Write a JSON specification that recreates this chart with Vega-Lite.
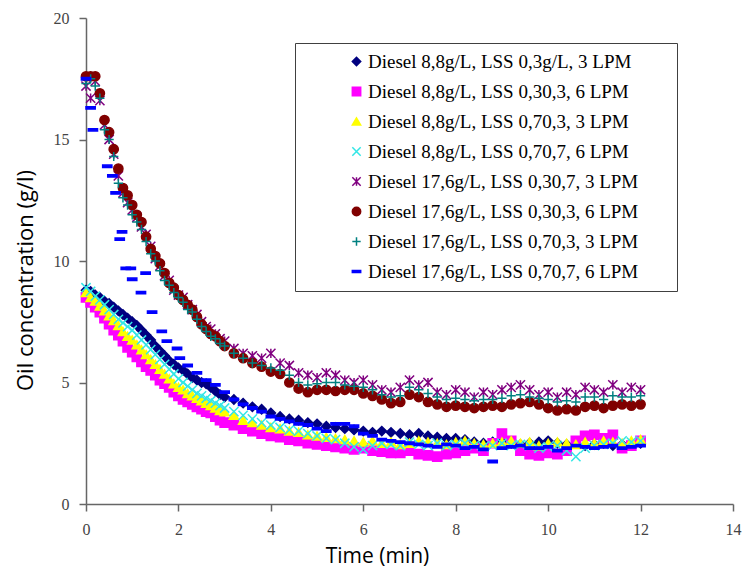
{
"$schema":"https://vega.github.io/schema/vega-lite/v6.json",
"width":647,"height":486,
"autosize":{"type":"none"},
"padding":{"left":86,"top":18,"right":10,"bottom":69},
"background":"white",
"config":{"view":{"stroke":null},
"legend":{"labelFont":"Liberation Serif","labelFontSize":19,"labelColor":"#000","symbolSize":70,"symbolStrokeWidth":1.5,"rowPadding":10,"padding":9,"symbolOffset":43,"labelOffset":2,"strokeColor":"#404040","fillColor":"white","labelLimit":0,"titleOrient":"right","titlePadding":30,"titleFont":"Liberation Serif","titleFontSize":19}},
"datasets":{"names":[
{"s":"A","name":"Diesel 8,8g/L, LSS 0,3g/L, 3 LPM"},
{"s":"B","name":"Diesel 8,8g/L, LSS 0,30,3, 6 LPM"},
{"s":"C","name":"Diesel 8,8g/L, LSS 0,70,3, 3 LPM"},
{"s":"D","name":"Diesel 8,8g/L, LSS 0,70,7, 6 LPM"},
{"s":"E","name":"Diesel 17,6g/L, LSS 0,30,7, 3 LPM"},
{"s":"F","name":"Diesel 17,6g/L, LSS 0,30,3, 6 LPM"},
{"s":"G","name":"Diesel 17,6g/L, LSS 0,70,3, 3 LPM"},
{"s":"H","name":"Diesel 17,6g/L, LSS 0,70,7, 6 LPM"}]},
"data":{"values":[
{"s":"A","t":0,"c":8.8},{"s":"A","t":0.1,"c":8.75},{"s":"A","t":0.2,"c":8.6},{"s":"A","t":0.3,"c":8.5},{"s":"A","t":0.4,"c":8.35},{"s":"A","t":0.5,"c":8.25},{"s":"A","t":0.6,"c":8.1},{"s":"A","t":0.7,"c":7.95},{"s":"A","t":0.8,"c":7.8},{"s":"A","t":0.9,"c":7.65},{"s":"A","t":1.0,"c":7.5},{"s":"A","t":1.1,"c":7.35},{"s":"A","t":1.2,"c":7.15},{"s":"A","t":1.3,"c":6.95},{"s":"A","t":1.4,"c":6.75},{"s":"A","t":1.5,"c":6.5},{"s":"A","t":1.6,"c":6.3},{"s":"A","t":1.7,"c":6.1},{"s":"A","t":1.8,"c":5.9},{"s":"A","t":1.9,"c":5.75},{"s":"A","t":2.0,"c":5.6},{"s":"A","t":2.1,"c":5.5},{"s":"A","t":2.2,"c":5.35},{"s":"A","t":2.3,"c":5.2},{"s":"A","t":2.4,"c":5.1},{"s":"A","t":2.5,"c":5.0},{"s":"A","t":2.6,"c":4.95},{"s":"A","t":2.7,"c":4.8},{"s":"A","t":2.8,"c":4.65},{"s":"A","t":2.9,"c":4.5},{"s":"A","t":3.0,"c":4.4},
{"s":"A","t":3.2,"c":4.3},{"s":"A","t":3.4,"c":4.15},{"s":"A","t":3.6,"c":4.0},{"s":"A","t":3.8,"c":3.9},{"s":"A","t":4.0,"c":3.75},{"s":"A","t":4.2,"c":3.6},{"s":"A","t":4.4,"c":3.5},{"s":"A","t":4.6,"c":3.45},{"s":"A","t":4.8,"c":3.35},{"s":"A","t":5.0,"c":3.3},{"s":"A","t":5.2,"c":3.2},{"s":"A","t":5.4,"c":3.15},{"s":"A","t":5.6,"c":3.1},{"s":"A","t":5.8,"c":3.05},{"s":"A","t":6.0,"c":3.0},{"s":"A","t":6.2,"c":2.95},{"s":"A","t":6.4,"c":3.0},{"s":"A","t":6.6,"c":2.95},{"s":"A","t":6.8,"c":2.9},{"s":"A","t":7.0,"c":2.85},{"s":"A","t":7.2,"c":2.9},{"s":"A","t":7.4,"c":2.8},{"s":"A","t":7.6,"c":2.75},{"s":"A","t":7.8,"c":2.7},{"s":"A","t":8.0,"c":2.7},{"s":"A","t":8.2,"c":2.65},{"s":"A","t":8.4,"c":2.55},{"s":"A","t":8.6,"c":2.5},{"s":"A","t":8.8,"c":2.55},{"s":"A","t":9.0,"c":2.6},{"s":"A","t":9.2,"c":2.5},{"s":"A","t":9.4,"c":2.45},{"s":"A","t":9.6,"c":2.5},{"s":"A","t":9.8,"c":2.55},{"s":"A","t":10.0,"c":2.6},{"s":"A","t":10.2,"c":2.5},{"s":"A","t":10.4,"c":2.45},{"s":"A","t":10.6,"c":2.5},{"s":"A","t":10.8,"c":2.4},{"s":"A","t":11.0,"c":2.45},{"s":"A","t":11.2,"c":2.5},{"s":"A","t":11.4,"c":2.4},{"s":"A","t":11.6,"c":2.45},{"s":"A","t":11.8,"c":2.5},{"s":"A","t":12.0,"c":2.5},
{"s":"B","t":0,"c":8.5},{"s":"B","t":0.1,"c":8.3},{"s":"B","t":0.2,"c":8.1},{"s":"B","t":0.3,"c":7.9},{"s":"B","t":0.4,"c":7.65},{"s":"B","t":0.5,"c":7.4},{"s":"B","t":0.6,"c":7.15},{"s":"B","t":0.7,"c":6.95},{"s":"B","t":0.8,"c":6.7},{"s":"B","t":0.9,"c":6.45},{"s":"B","t":1.0,"c":6.25},{"s":"B","t":1.1,"c":6.05},{"s":"B","t":1.2,"c":5.85},{"s":"B","t":1.3,"c":5.65},{"s":"B","t":1.4,"c":5.5},{"s":"B","t":1.5,"c":5.3},{"s":"B","t":1.6,"c":5.1},{"s":"B","t":1.7,"c":4.95},{"s":"B","t":1.8,"c":4.8},{"s":"B","t":1.9,"c":4.6},{"s":"B","t":2.0,"c":4.45},{"s":"B","t":2.1,"c":4.3},{"s":"B","t":2.2,"c":4.2},{"s":"B","t":2.3,"c":4.1},{"s":"B","t":2.4,"c":4.0},{"s":"B","t":2.5,"c":3.9},{"s":"B","t":2.6,"c":3.8},{"s":"B","t":2.7,"c":3.75},{"s":"B","t":2.8,"c":3.6},{"s":"B","t":2.9,"c":3.45},{"s":"B","t":3.0,"c":3.35},
{"s":"B","t":3.2,"c":3.25},{"s":"B","t":3.4,"c":3.1},{"s":"B","t":3.6,"c":3.0},{"s":"B","t":3.8,"c":2.9},{"s":"B","t":4.0,"c":2.8},{"s":"B","t":4.2,"c":2.75},{"s":"B","t":4.4,"c":2.65},{"s":"B","t":4.6,"c":2.6},{"s":"B","t":4.8,"c":2.5},{"s":"B","t":5.0,"c":2.45},{"s":"B","t":5.2,"c":2.4},{"s":"B","t":5.4,"c":2.35},{"s":"B","t":5.6,"c":2.3},{"s":"B","t":5.8,"c":2.25},{"s":"B","t":6.0,"c":2.3},{"s":"B","t":6.2,"c":2.2},{"s":"B","t":6.4,"c":2.15},{"s":"B","t":6.6,"c":2.1},{"s":"B","t":6.8,"c":2.1},{"s":"B","t":7.0,"c":2.2},{"s":"B","t":7.2,"c":2.05},{"s":"B","t":7.4,"c":2.0},{"s":"B","t":7.6,"c":1.95},{"s":"B","t":7.8,"c":2.05},{"s":"B","t":8.0,"c":2.1},{"s":"B","t":8.2,"c":2.2},{"s":"B","t":8.4,"c":2.3},{"s":"B","t":8.6,"c":2.2},{"s":"B","t":8.8,"c":2.5},{"s":"B","t":9.0,"c":2.9},{"s":"B","t":9.2,"c":2.6},{"s":"B","t":9.4,"c":2.2},{"s":"B","t":9.6,"c":2.05},{"s":"B","t":9.8,"c":2.0},{"s":"B","t":10.0,"c":2.1},{"s":"B","t":10.2,"c":2.05},{"s":"B","t":10.4,"c":2.2},{"s":"B","t":10.6,"c":2.6},{"s":"B","t":10.8,"c":2.8},{"s":"B","t":11.0,"c":2.85},{"s":"B","t":11.2,"c":2.7},{"s":"B","t":11.4,"c":2.85},{"s":"B","t":11.6,"c":2.3},{"s":"B","t":11.8,"c":2.4},{"s":"B","t":12.0,"c":2.6},
{"s":"C","t":0,"c":8.7},{"s":"C","t":0.1,"c":8.5},{"s":"C","t":0.2,"c":8.35},{"s":"C","t":0.3,"c":8.15},{"s":"C","t":0.4,"c":7.95},{"s":"C","t":0.5,"c":7.75},{"s":"C","t":0.6,"c":7.55},{"s":"C","t":0.7,"c":7.35},{"s":"C","t":0.8,"c":7.1},{"s":"C","t":0.9,"c":6.9},{"s":"C","t":1.0,"c":6.75},{"s":"C","t":1.1,"c":6.55},{"s":"C","t":1.2,"c":6.35},{"s":"C","t":1.3,"c":6.15},{"s":"C","t":1.4,"c":5.95},{"s":"C","t":1.5,"c":5.75},{"s":"C","t":1.6,"c":5.55},{"s":"C","t":1.7,"c":5.35},{"s":"C","t":1.8,"c":5.15},{"s":"C","t":1.9,"c":4.95},{"s":"C","t":2.0,"c":4.8},{"s":"C","t":2.1,"c":4.7},{"s":"C","t":2.2,"c":4.55},{"s":"C","t":2.3,"c":4.45},{"s":"C","t":2.4,"c":4.35},{"s":"C","t":2.5,"c":4.25},{"s":"C","t":2.6,"c":4.15},{"s":"C","t":2.7,"c":4.05},{"s":"C","t":2.8,"c":3.95},{"s":"C","t":2.9,"c":3.85},{"s":"C","t":3.0,"c":3.8},
{"s":"C","t":3.2,"c":3.65},{"s":"C","t":3.4,"c":3.45},{"s":"C","t":3.6,"c":3.35},{"s":"C","t":3.8,"c":3.25},{"s":"C","t":4.0,"c":3.15},{"s":"C","t":4.2,"c":3.1},{"s":"C","t":4.4,"c":3.0},{"s":"C","t":4.6,"c":2.95},{"s":"C","t":4.8,"c":2.85},{"s":"C","t":5.0,"c":2.8},{"s":"C","t":5.2,"c":2.75},{"s":"C","t":5.4,"c":2.7},{"s":"C","t":5.6,"c":2.65},{"s":"C","t":5.8,"c":2.6},{"s":"C","t":6.0,"c":2.55},{"s":"C","t":6.2,"c":2.6},{"s":"C","t":6.4,"c":2.5},{"s":"C","t":6.6,"c":2.55},{"s":"C","t":6.8,"c":2.45},{"s":"C","t":7.0,"c":2.5},{"s":"C","t":7.2,"c":2.6},{"s":"C","t":7.4,"c":2.55},{"s":"C","t":7.6,"c":2.5},{"s":"C","t":7.8,"c":2.45},{"s":"C","t":8.0,"c":2.55},{"s":"C","t":8.2,"c":2.6},{"s":"C","t":8.4,"c":2.5},{"s":"C","t":8.6,"c":2.45},{"s":"C","t":8.8,"c":2.5},{"s":"C","t":9.0,"c":2.55},{"s":"C","t":9.2,"c":2.6},{"s":"C","t":9.4,"c":2.5},{"s":"C","t":9.6,"c":2.55},{"s":"C","t":9.8,"c":2.4},{"s":"C","t":10.0,"c":2.5},{"s":"C","t":10.2,"c":2.55},{"s":"C","t":10.4,"c":2.5},{"s":"C","t":10.6,"c":2.45},{"s":"C","t":10.8,"c":2.55},{"s":"C","t":11.0,"c":2.5},{"s":"C","t":11.2,"c":2.6},{"s":"C","t":11.4,"c":2.55},{"s":"C","t":11.6,"c":2.5},{"s":"C","t":11.8,"c":2.6},{"s":"C","t":12.0,"c":2.65},
{"s":"D","t":0,"c":8.9},{"s":"D","t":0.1,"c":8.75},{"s":"D","t":0.2,"c":8.55},{"s":"D","t":0.3,"c":8.4},{"s":"D","t":0.4,"c":8.2},{"s":"D","t":0.5,"c":8.0},{"s":"D","t":0.6,"c":7.8},{"s":"D","t":0.7,"c":7.6},{"s":"D","t":0.8,"c":7.45},{"s":"D","t":0.9,"c":7.3},{"s":"D","t":1.0,"c":7.15},{"s":"D","t":1.1,"c":6.95},{"s":"D","t":1.2,"c":6.75},{"s":"D","t":1.3,"c":6.55},{"s":"D","t":1.4,"c":6.35},{"s":"D","t":1.5,"c":6.15},{"s":"D","t":1.6,"c":5.95},{"s":"D","t":1.7,"c":5.75},{"s":"D","t":1.8,"c":5.55},{"s":"D","t":1.9,"c":5.35},{"s":"D","t":2.0,"c":5.15},{"s":"D","t":2.1,"c":5.0},{"s":"D","t":2.2,"c":4.85},{"s":"D","t":2.3,"c":4.7},{"s":"D","t":2.4,"c":4.55},{"s":"D","t":2.5,"c":4.45},{"s":"D","t":2.6,"c":4.35},{"s":"D","t":2.7,"c":4.25},{"s":"D","t":2.8,"c":4.15},{"s":"D","t":2.9,"c":4.05},{"s":"D","t":3.0,"c":3.95},
{"s":"D","t":3.2,"c":3.8},{"s":"D","t":3.4,"c":3.65},{"s":"D","t":3.6,"c":3.5},{"s":"D","t":3.8,"c":3.35},{"s":"D","t":4.0,"c":3.25},{"s":"D","t":4.2,"c":3.15},{"s":"D","t":4.4,"c":3.05},{"s":"D","t":4.6,"c":3.0},{"s":"D","t":4.8,"c":2.9},{"s":"D","t":5.0,"c":2.8},{"s":"D","t":5.2,"c":2.7},{"s":"D","t":5.4,"c":2.65},{"s":"D","t":5.6,"c":2.5},{"s":"D","t":5.8,"c":2.35},{"s":"D","t":6.0,"c":2.25},{"s":"D","t":6.2,"c":2.4},{"s":"D","t":6.4,"c":2.5},{"s":"D","t":6.6,"c":2.45},{"s":"D","t":6.8,"c":2.4},{"s":"D","t":7.0,"c":2.55},{"s":"D","t":7.2,"c":2.45},{"s":"D","t":7.4,"c":2.4},{"s":"D","t":7.6,"c":2.5},{"s":"D","t":7.8,"c":2.4},{"s":"D","t":8.0,"c":2.45},{"s":"D","t":8.2,"c":2.5},{"s":"D","t":8.4,"c":2.4},{"s":"D","t":8.6,"c":2.35},{"s":"D","t":8.8,"c":2.4},{"s":"D","t":9.0,"c":2.5},{"s":"D","t":9.2,"c":2.4},{"s":"D","t":9.4,"c":2.45},{"s":"D","t":9.6,"c":2.4},{"s":"D","t":9.8,"c":2.3},{"s":"D","t":10.0,"c":2.35},{"s":"D","t":10.2,"c":2.4},{"s":"D","t":10.4,"c":2.2},{"s":"D","t":10.6,"c":1.95},{"s":"D","t":10.8,"c":2.3},{"s":"D","t":11.0,"c":2.4},{"s":"D","t":11.2,"c":2.45},{"s":"D","t":11.4,"c":2.5},{"s":"D","t":11.6,"c":2.6},{"s":"D","t":11.8,"c":2.55},{"s":"D","t":12.0,"c":2.6},
{"s":"E","t":0,"c":17.2},{"s":"E","t":0.1,"c":16.7},{"s":"E","t":0.2,"c":17.4},{"s":"E","t":0.3,"c":16.6},{"s":"E","t":0.4,"c":15.6},{"s":"E","t":0.5,"c":15.0},{"s":"E","t":0.6,"c":14.4},{"s":"E","t":0.7,"c":13.5},{"s":"E","t":0.8,"c":12.8},{"s":"E","t":0.9,"c":12.4},{"s":"E","t":1.0,"c":12.1},{"s":"E","t":1.1,"c":11.8},{"s":"E","t":1.2,"c":11.4},{"s":"E","t":1.3,"c":11.1},{"s":"E","t":1.4,"c":10.6},{"s":"E","t":1.5,"c":10.1},{"s":"E","t":1.6,"c":9.8},{"s":"E","t":1.7,"c":9.4},{"s":"E","t":1.8,"c":9.2},{"s":"E","t":1.9,"c":8.8},{"s":"E","t":2.0,"c":8.6},{"s":"E","t":2.1,"c":8.5},{"s":"E","t":2.2,"c":8.2},{"s":"E","t":2.3,"c":8.0},{"s":"E","t":2.4,"c":7.8},{"s":"E","t":2.5,"c":7.5},{"s":"E","t":2.6,"c":7.3},{"s":"E","t":2.7,"c":7.2},{"s":"E","t":2.8,"c":7.0},{"s":"E","t":2.9,"c":6.8},{"s":"E","t":3.0,"c":6.7},
{"s":"E","t":3.2,"c":6.4},{"s":"E","t":3.4,"c":6.2},{"s":"E","t":3.6,"c":6.1},{"s":"E","t":3.8,"c":6.0},{"s":"E","t":4.0,"c":6.2},{"s":"E","t":4.2,"c":5.8},{"s":"E","t":4.4,"c":5.7},{"s":"E","t":4.6,"c":5.4},{"s":"E","t":4.8,"c":5.3},{"s":"E","t":5.0,"c":5.2},{"s":"E","t":5.2,"c":5.4},{"s":"E","t":5.4,"c":5.3},{"s":"E","t":5.6,"c":5.1},{"s":"E","t":5.8,"c":5.0},{"s":"E","t":6.0,"c":5.1},{"s":"E","t":6.2,"c":4.9},{"s":"E","t":6.4,"c":4.7},{"s":"E","t":6.6,"c":4.6},{"s":"E","t":6.8,"c":4.8},{"s":"E","t":7.0,"c":5.1},{"s":"E","t":7.2,"c":4.9},{"s":"E","t":7.4,"c":5.0},{"s":"E","t":7.6,"c":4.6},{"s":"E","t":7.8,"c":4.5},{"s":"E","t":8.0,"c":4.7},{"s":"E","t":8.2,"c":4.6},{"s":"E","t":8.4,"c":4.4},{"s":"E","t":8.6,"c":4.6},{"s":"E","t":8.8,"c":4.5},{"s":"E","t":9.0,"c":4.7},{"s":"E","t":9.2,"c":4.8},{"s":"E","t":9.4,"c":4.9},{"s":"E","t":9.6,"c":4.7},{"s":"E","t":9.8,"c":4.5},{"s":"E","t":10.0,"c":4.6},{"s":"E","t":10.2,"c":4.4},{"s":"E","t":10.4,"c":4.6},{"s":"E","t":10.6,"c":4.5},{"s":"E","t":10.8,"c":4.8},{"s":"E","t":11.0,"c":4.7},{"s":"E","t":11.2,"c":4.6},{"s":"E","t":11.4,"c":4.9},{"s":"E","t":11.6,"c":4.6},{"s":"E","t":11.8,"c":4.8},{"s":"E","t":12.0,"c":4.7},
{"s":"F","t":0,"c":17.6},{"s":"F","t":0.1,"c":17.6},{"s":"F","t":0.2,"c":17.6},{"s":"F","t":0.3,"c":16.9},{"s":"F","t":0.4,"c":15.8},{"s":"F","t":0.5,"c":15.3},{"s":"F","t":0.6,"c":14.6},{"s":"F","t":0.7,"c":13.8},{"s":"F","t":0.8,"c":13.0},{"s":"F","t":0.9,"c":12.7},{"s":"F","t":1.0,"c":12.3},{"s":"F","t":1.1,"c":11.9},{"s":"F","t":1.2,"c":11.6},{"s":"F","t":1.3,"c":11.0},{"s":"F","t":1.4,"c":10.5},{"s":"F","t":1.5,"c":10.2},{"s":"F","t":1.6,"c":9.9},{"s":"F","t":1.7,"c":9.5},{"s":"F","t":1.8,"c":9.1},{"s":"F","t":1.9,"c":8.9},{"s":"F","t":2.0,"c":8.6},{"s":"F","t":2.1,"c":8.4},{"s":"F","t":2.2,"c":8.2},{"s":"F","t":2.3,"c":8.0},{"s":"F","t":2.4,"c":7.7},{"s":"F","t":2.5,"c":7.4},{"s":"F","t":2.6,"c":7.2},{"s":"F","t":2.7,"c":7.0},{"s":"F","t":2.8,"c":6.9},{"s":"F","t":2.9,"c":6.7},{"s":"F","t":3.0,"c":6.5},
{"s":"F","t":3.2,"c":6.2},{"s":"F","t":3.4,"c":6.0},{"s":"F","t":3.6,"c":5.8},{"s":"F","t":3.8,"c":5.65},{"s":"F","t":4.0,"c":5.45},{"s":"F","t":4.2,"c":5.35},{"s":"F","t":4.4,"c":5.0},{"s":"F","t":4.6,"c":4.75},{"s":"F","t":4.8,"c":4.6},{"s":"F","t":5.0,"c":4.7},{"s":"F","t":5.2,"c":4.7},{"s":"F","t":5.4,"c":4.65},{"s":"F","t":5.6,"c":4.7},{"s":"F","t":5.8,"c":4.7},{"s":"F","t":6.0,"c":4.55},{"s":"F","t":6.2,"c":4.45},{"s":"F","t":6.4,"c":4.3},{"s":"F","t":6.6,"c":4.15},{"s":"F","t":6.8,"c":4.2},{"s":"F","t":7.0,"c":4.5},{"s":"F","t":7.2,"c":4.4},{"s":"F","t":7.4,"c":4.2},{"s":"F","t":7.6,"c":4.1},{"s":"F","t":7.8,"c":4.0},{"s":"F","t":8.0,"c":4.05},{"s":"F","t":8.2,"c":4.0},{"s":"F","t":8.4,"c":3.95},{"s":"F","t":8.6,"c":4.0},{"s":"F","t":8.8,"c":4.05},{"s":"F","t":9.0,"c":4.0},{"s":"F","t":9.2,"c":4.1},{"s":"F","t":9.4,"c":4.15},{"s":"F","t":9.6,"c":4.2},{"s":"F","t":9.8,"c":4.1},{"s":"F","t":10.0,"c":3.95},{"s":"F","t":10.2,"c":3.85},{"s":"F","t":10.4,"c":3.9},{"s":"F","t":10.6,"c":3.85},{"s":"F","t":10.8,"c":4.0},{"s":"F","t":11.0,"c":4.05},{"s":"F","t":11.2,"c":3.95},{"s":"F","t":11.4,"c":4.05},{"s":"F","t":11.6,"c":4.1},{"s":"F","t":11.8,"c":4.05},{"s":"F","t":12.0,"c":4.1},
{"s":"G","t":0,"c":17.3},{"s":"G","t":0.1,"c":17.5},{"s":"G","t":0.2,"c":17.2},{"s":"G","t":0.3,"c":16.7},{"s":"G","t":0.4,"c":15.4},{"s":"G","t":0.5,"c":15.0},{"s":"G","t":0.6,"c":14.3},{"s":"G","t":0.7,"c":13.2},{"s":"G","t":0.8,"c":12.6},{"s":"G","t":0.9,"c":12.3},{"s":"G","t":1.0,"c":11.9},{"s":"G","t":1.1,"c":11.6},{"s":"G","t":1.2,"c":11.3},{"s":"G","t":1.3,"c":10.8},{"s":"G","t":1.4,"c":10.3},{"s":"G","t":1.5,"c":10.0},{"s":"G","t":1.6,"c":9.6},{"s":"G","t":1.7,"c":9.2},{"s":"G","t":1.8,"c":9.0},{"s":"G","t":1.9,"c":8.7},{"s":"G","t":2.0,"c":8.5},{"s":"G","t":2.1,"c":8.3},{"s":"G","t":2.2,"c":8.0},{"s":"G","t":2.3,"c":7.9},{"s":"G","t":2.4,"c":7.6},{"s":"G","t":2.5,"c":7.3},{"s":"G","t":2.6,"c":7.1},{"s":"G","t":2.7,"c":6.9},{"s":"G","t":2.8,"c":6.8},{"s":"G","t":2.9,"c":6.6},{"s":"G","t":3.0,"c":6.5},
{"s":"G","t":3.2,"c":6.2},{"s":"G","t":3.4,"c":6.0},{"s":"G","t":3.6,"c":5.8},{"s":"G","t":3.8,"c":5.7},{"s":"G","t":4.0,"c":5.6},{"s":"G","t":4.2,"c":5.5},{"s":"G","t":4.4,"c":5.3},{"s":"G","t":4.6,"c":5.0},{"s":"G","t":4.8,"c":4.9},{"s":"G","t":5.0,"c":4.95},{"s":"G","t":5.2,"c":5.0},{"s":"G","t":5.4,"c":5.0},{"s":"G","t":5.6,"c":4.9},{"s":"G","t":5.8,"c":4.85},{"s":"G","t":6.0,"c":4.8},{"s":"G","t":6.2,"c":4.7},{"s":"G","t":6.4,"c":4.5},{"s":"G","t":6.6,"c":4.4},{"s":"G","t":6.8,"c":4.45},{"s":"G","t":7.0,"c":4.8},{"s":"G","t":7.2,"c":4.7},{"s":"G","t":7.4,"c":4.55},{"s":"G","t":7.6,"c":4.4},{"s":"G","t":7.8,"c":4.3},{"s":"G","t":8.0,"c":4.35},{"s":"G","t":8.2,"c":4.3},{"s":"G","t":8.4,"c":4.25},{"s":"G","t":8.6,"c":4.3},{"s":"G","t":8.8,"c":4.3},{"s":"G","t":9.0,"c":4.35},{"s":"G","t":9.2,"c":4.45},{"s":"G","t":9.4,"c":4.5},{"s":"G","t":9.6,"c":4.4},{"s":"G","t":9.8,"c":4.35},{"s":"G","t":10.0,"c":4.3},{"s":"G","t":10.2,"c":4.2},{"s":"G","t":10.4,"c":4.25},{"s":"G","t":10.6,"c":4.2},{"s":"G","t":10.8,"c":4.4},{"s":"G","t":11.0,"c":4.4},{"s":"G","t":11.2,"c":4.3},{"s":"G","t":11.4,"c":4.45},{"s":"G","t":11.6,"c":4.4},{"s":"G","t":11.8,"c":4.4},{"s":"G","t":12.0,"c":4.45},
{"s":"H","t":0,"c":17.5},{"s":"H","t":0.1,"c":16.3},{"s":"H","t":0.15,"c":15.4},{"s":"H","t":0.46,"c":13.9},{"s":"H","t":0.57,"c":13.5},{"s":"H","t":0.64,"c":12.8},{"s":"H","t":0.73,"c":10.9},{"s":"H","t":0.78,"c":11.2},{"s":"H","t":0.86,"c":9.7},{"s":"H","t":0.97,"c":9.7},{"s":"H","t":1.0,"c":9.25},{"s":"H","t":1.19,"c":8.7},{"s":"H","t":1.29,"c":9.5},{"s":"H","t":1.43,"c":7.9},{"s":"H","t":1.64,"c":7.1},{"s":"H","t":1.75,"c":6.7},{"s":"H","t":1.97,"c":6.4},{"s":"H","t":2.03,"c":6.0},{"s":"H","t":2.2,"c":5.7},{"s":"H","t":2.4,"c":5.4},{"s":"H","t":2.6,"c":5.1},{"s":"H","t":2.8,"c":4.9},{"s":"H","t":3.0,"c":4.6},
{"s":"H","t":3.2,"c":4.3},{"s":"H","t":3.4,"c":4.1},{"s":"H","t":3.6,"c":3.95},{"s":"H","t":3.8,"c":3.8},{"s":"H","t":4.0,"c":3.6},{"s":"H","t":4.2,"c":3.5},{"s":"H","t":4.4,"c":3.4},{"s":"H","t":4.6,"c":3.3},{"s":"H","t":4.8,"c":3.25},{"s":"H","t":5.0,"c":3.1},{"s":"H","t":5.2,"c":3.0},{"s":"H","t":5.4,"c":3.3},{"s":"H","t":5.6,"c":3.3},{"s":"H","t":5.8,"c":3.2},{"s":"H","t":6.0,"c":2.9},{"s":"H","t":6.2,"c":2.8},{"s":"H","t":6.4,"c":2.65},{"s":"H","t":6.6,"c":2.6},{"s":"H","t":6.8,"c":2.55},{"s":"H","t":7.0,"c":2.5},{"s":"H","t":7.2,"c":2.45},{"s":"H","t":7.4,"c":2.4},{"s":"H","t":7.6,"c":2.35},{"s":"H","t":7.8,"c":2.45},{"s":"H","t":8.0,"c":2.4},{"s":"H","t":8.2,"c":2.3},{"s":"H","t":8.4,"c":2.35},{"s":"H","t":8.6,"c":2.25},{"s":"H","t":8.8,"c":1.75},{"s":"H","t":9.0,"c":2.3},{"s":"H","t":9.2,"c":2.35},{"s":"H","t":9.4,"c":2.4},{"s":"H","t":9.6,"c":2.3},{"s":"H","t":9.8,"c":2.3},{"s":"H","t":10.0,"c":2.35},{"s":"H","t":10.2,"c":2.2},{"s":"H","t":10.4,"c":2.3},{"s":"H","t":10.6,"c":2.4},{"s":"H","t":10.8,"c":2.35},{"s":"H","t":11.0,"c":2.3},{"s":"H","t":11.2,"c":2.35},{"s":"H","t":11.4,"c":2.4},{"s":"H","t":11.6,"c":2.3},{"s":"H","t":11.8,"c":2.35},{"s":"H","t":12.0,"c":2.4}
]},
"transform":[{"lookup":"s","from":{"data":{"name":"names"},"key":"s","fields":["name"]}}],
"mark":{"type":"point","filled":true,"size":85,"strokeWidth":1.5,"opacity":1},
"encoding":{
"x":{"field":"t","type":"quantitative","scale":{"domain":[0,14],"nice":false},
"axis":{"title":"Time (min)","values":[0,2,4,6,8,10,12,14],"grid":false,"domainColor":"#666","domainWidth":1.5,"tickColor":"#666","tickWidth":1.5,"tickSize":7,"labelFont":"Liberation Serif","labelFontSize":16,"labelColor":"#444","labelPadding":10,"labelFlush":false,"titleFont":"Open Sans","titleFontSize":21,"titleFontWeight":"normal","titleColor":"#000","titleX":291,"titleY":58,"titleBaseline":"alphabetic"}},
"y":{"field":"c","type":"quantitative","scale":{"domain":[0,20],"nice":false},
"axis":{"title":"Oil concentration (g/l)","values":[0,5,10,15,20],"grid":false,"domainColor":"#666","domainWidth":1.5,"tickColor":"#666","tickWidth":1.5,"tickSize":7,"labelFont":"Liberation Serif","labelFontSize":16,"labelColor":"#444","labelPadding":10,"labelFlush":false,"titleFont":"Open Sans","titleFontSize":22,"titleFontWeight":"normal","titleColor":"#000","titleAngle":-90,"titleX":-54,"titleY":262,"titleBaseline":"alphabetic"}},
"shape":{"field":"name","type":"nominal",
"scale":{"domain":["Diesel 8,8g/L, LSS 0,3g/L, 3 LPM","Diesel 8,8g/L, LSS 0,30,3, 6 LPM","Diesel 8,8g/L, LSS 0,70,3, 3 LPM","Diesel 8,8g/L, LSS 0,70,7, 6 LPM","Diesel 17,6g/L, LSS 0,30,7, 3 LPM","Diesel 17,6g/L, LSS 0,30,3, 6 LPM","Diesel 17,6g/L, LSS 0,70,3, 3 LPM","Diesel 17,6g/L, LSS 0,70,7, 6 LPM"],
"range":["diamond","square","triangle-up","M-1,-1L1,1M-1,1L1,-1","M-1,-1L1,1M-1,1L1,-1M0,-1L0,1","circle","M-1,0L1,0M0,-1L0,1","M-1,-0.25L1,-0.25L1,0.25L-1,0.25Z"]},
"legend":{"orient":"none","legendX":209,"legendY":25,"title":"\u00a0"}},
"fill":{"field":"name","type":"nominal",
"scale":{"domain":["Diesel 8,8g/L, LSS 0,3g/L, 3 LPM","Diesel 8,8g/L, LSS 0,30,3, 6 LPM","Diesel 8,8g/L, LSS 0,70,3, 3 LPM","Diesel 8,8g/L, LSS 0,70,7, 6 LPM","Diesel 17,6g/L, LSS 0,30,7, 3 LPM","Diesel 17,6g/L, LSS 0,30,3, 6 LPM","Diesel 17,6g/L, LSS 0,70,3, 3 LPM","Diesel 17,6g/L, LSS 0,70,7, 6 LPM"],
"range":["#000080","#FF00FF","#FFFF00","transparent","transparent","#800000","transparent","#0000FF"]},
"legend":{"orient":"none","legendX":209,"legendY":25,"title":"\u00a0"}},
"stroke":{"field":"name","type":"nominal",
"scale":{"domain":["Diesel 8,8g/L, LSS 0,3g/L, 3 LPM","Diesel 8,8g/L, LSS 0,30,3, 6 LPM","Diesel 8,8g/L, LSS 0,70,3, 3 LPM","Diesel 8,8g/L, LSS 0,70,7, 6 LPM","Diesel 17,6g/L, LSS 0,30,7, 3 LPM","Diesel 17,6g/L, LSS 0,30,3, 6 LPM","Diesel 17,6g/L, LSS 0,70,3, 3 LPM","Diesel 17,6g/L, LSS 0,70,7, 6 LPM"],
"range":["#000080","#FF00FF","#FFFF00","#33E6E6","#800080","#800000","#008080","#0000FF"]},
"legend":{"orient":"none","legendX":209,"legendY":25,"title":"\u00a0"}}
}
}
